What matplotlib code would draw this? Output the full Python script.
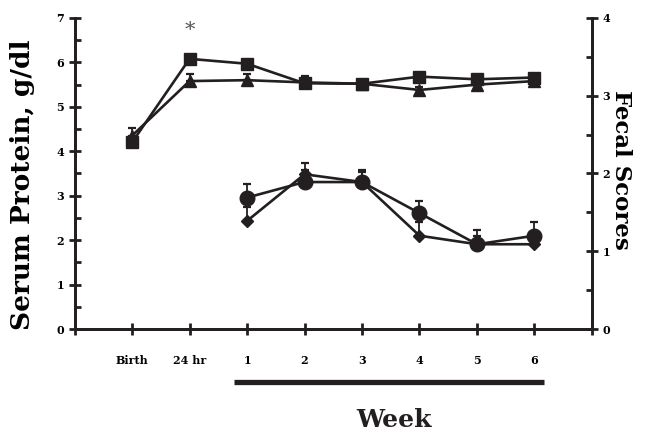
import matplotlib
matplotlib.use("Agg")
import matplotlib.pyplot as plt
import matplotlib.transforms as mtransforms
import numpy as np

plt.rcParams['font.family'] = ['DejaVu Serif']

# x categories (positions 1..8 on an axis that runs 0..9)
x_labels = ['', 'Birth', '24 hr', '1', '2', '3', '4', '5', '6', '']

# serum protein, g/dl (left axis)
sq_x = [1, 2, 3, 4, 5, 6, 7, 8]
sq_y = [4.20, 6.08, 5.97, 5.53, 5.52, 5.68, 5.62, 5.66]
sq_err = [0.10, 0.06, 0.05, 0.08, 0.05, 0.07, 0.06, 0.07]

tri_x = [1, 2, 3, 4, 5, 6, 7, 8]
tri_y = [4.35, 5.58, 5.60, 5.55, 5.52, 5.38, 5.50, 5.58]
tri_err = [0.17, 0.15, 0.15, 0.14, 0.07, 0.06, 0.05, 0.06]

# fecal scores (right axis)
circ_x = [3, 4, 5, 6, 7, 8]
circ_y = [1.69, 1.89, 1.89, 1.49, 1.09, 1.20]
circ_err = [0.17, 0.15, 0.15, 0.15, 0.18, 0.17]

dia_x = [3, 4, 5, 6, 7, 8]
dia_y = [1.39, 1.99, 1.89, 1.20, 1.09, 1.09]
dia_err = [0.18, 0.15, 0.13, 0.17, 0.10, 0.08]

fig = plt.figure(figsize=(6.57, 4.32), dpi=100)
ax = fig.add_axes([0.1135, 0.2384, 0.7875, 0.7200])
ax2 = ax.twinx()

K = '#231f20'
lw = 1.9

def draw(a, x, y, e, marker, ms):
    a.errorbar(x, y, yerr=[np.zeros(len(e)), e], fmt='none', ecolor=K,
               elinewidth=1.3, capsize=3, capthick=1.6, zorder=2)
    a.plot(x, y, color=K, lw=lw, marker=marker, ms=ms, mfc=K, mec=K, zorder=3)

draw(ax, sq_x, sq_y, sq_err, 's', 9)
draw(ax, tri_x, tri_y, tri_err, '^', 8.5)
draw(ax2, circ_x, circ_y, circ_err, 'o', 10.5)
draw(ax2, dia_x, dia_y, dia_err, 'D', 6.5)

ax.set_xlim(0, 9)
ax.set_ylim(0, 7)
ax2.set_ylim(0, 4)

ax.set_xticks(range(10))
ax.set_xticklabels(x_labels, fontsize=8, fontweight='bold')
ax.set_yticks(range(8))
ax.set_yticks(np.arange(0.5, 7, 1), minor=True)
ax2.set_yticks(range(5))
ax2.set_yticks(np.arange(0.5, 4, 1), minor=True)
for a in (ax, ax2):
    for lab in a.get_yticklabels():
        lab.set_fontweight('bold')
        lab.set_fontsize(8)
    for s in ('left', 'right', 'bottom'):
        a.spines[s].set_linewidth(2)
        a.spines[s].set_color(K)
    a.spines['top'].set_visible(False)
    a.tick_params(which='major', direction='inout', length=9, width=2, color=K, pad=2)
    a.tick_params(which='minor', direction='in', length=4, width=2, color=K)
ax.tick_params(axis='x', pad=14)
ax.tick_params(axis='y', pad=3)
ax2.tick_params(axis='y', pad=3)

ax.set_ylabel('Serum Protein, g/dl', fontsize=19, fontweight='bold')
ax.yaxis.set_label_coords(-0.076, 0.463)
ax2.set_ylabel('Fecal Scores', fontsize=16.5, fontweight='bold', rotation=270)
ax2.yaxis.set_label_coords(1.078, 0.51)

# asterisk over 24 hr
ax.text(2, 6.72, '*', ha='center', va='center', fontsize=15, color='#555555')

# week bar under the axis
trans = mtransforms.blended_transform_factory(ax.transData, ax.transAxes)
ax.plot([2.78, 8.17], [-0.169, -0.169], color=K, lw=3.8, solid_capstyle='butt',
        transform=trans, clip_on=False)
fig.text(0.60, 0.011, 'Week', ha='center', va='baseline', fontsize=18, fontweight='bold', color=K)

fig.savefig('out.png', dpi=100)
